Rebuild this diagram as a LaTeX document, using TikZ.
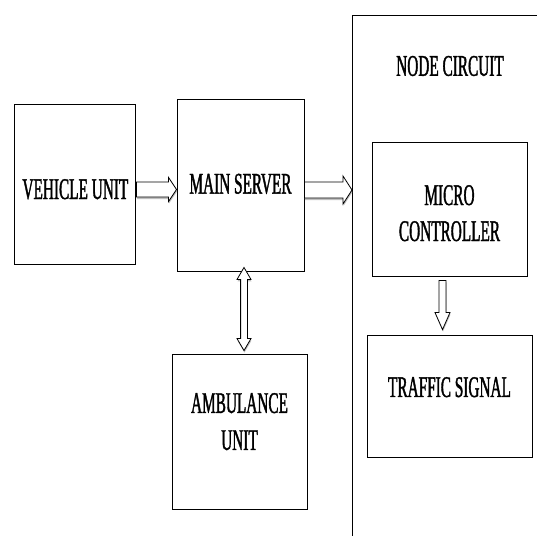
\documentclass[tikz,border=0pt]{standalone}
\usepackage{fontspec}
\setmainfont[FakeStretch=0.51, FakeBold=1.2]{Liberation Serif}
\usetikzlibrary{calc,shadows}

% hollow block arrow: from, to, shaft half width, head half width, head length
\newcommand{\blockarrow}[5]{%
  \coordinate (hb) at ($(#2)!#5!(#1)$);
  \draw[blockarr] ($(#1)!#3!90:(#2)$) -- ($(hb)!#3!90:(#2)$) -- ($(hb)!#4!90:(#2)$) -- (#2)
    -- ($(hb)!#4!-90:(#2)$) -- ($(hb)!#3!-90:(#2)$) -- ($(#1)!#3!-90:(#2)$) -- cycle;}
% hollow block arrow with two heads
\newcommand{\dblblockarrow}[5]{%
  \coordinate (ha) at ($(#1)!#5!(#2)$);
  \coordinate (hb) at ($(#2)!#5!(#1)$);
  \draw[blockarr] (#1) -- ($(ha)!#4!90:(#2)$) -- ($(ha)!#3!90:(#2)$) -- ($(hb)!#3!90:(#2)$)
    -- ($(hb)!#4!90:(#2)$) -- (#2) -- ($(hb)!#4!-90:(#2)$) -- ($(hb)!#3!-90:(#2)$)
    -- ($(ha)!#3!-90:(#2)$) -- ($(ha)!#4!-90:(#2)$) -- cycle;}

\tikzset{
  unitbox/.style={draw=black, line width=0.9pt, align=center, inner sep=0pt,
    font=\fontsize{30}{36}\selectfont},
  blockarr/.style={draw=black, fill=white, line width=0.8pt,
    drop shadow={opacity=0.5, shadow xshift=0.5pt, shadow yshift=-2pt}}
}

\begin{document}
\begin{tikzpicture}[x=1pt, y=-1pt]
    \useasboundingbox (0,0) rectangle (537,536);
    % blocks
    \node[unitbox, minimum width=121pt, minimum height=160pt, text height=30pt, text depth=0pt] (veh) at (75.4,184) {VEHICLE UNIT};
    \node[unitbox, minimum width=127pt, minimum height=172pt, text depth=2.7pt] (srv) at (240.5,185) {MAIN SERVER};
    \node[unitbox, minimum width=135pt, minimum height=155pt, font=\fontsize{30}{37}\selectfont, text depth=20pt] (amb) at (239.5,431.5) {AMBULANCE\\UNIT};
    % node circuit frame (open to the right and below)
    \coordinate (nc) at (352,15.5);
    \draw[line width=0.9pt] (537,15.5) -- (nc) -- (352,536);
    \node[font=\fontsize{30}{36}\selectfont] (nctitle) at (450,66) {NODE CIRCUIT};
    \node[unitbox, minimum width=155pt, minimum height=134pt, text height=64pt, text depth=0pt] (mcu) at (449.5,209) {MICRO\\CONTROLLER};
    \node[unitbox, minimum width=165pt, minimum height=122pt, text depth=17.9pt] (sig) at (449.5,396) {TRAFFIC SIGNAL};
    % vehicle unit -> main server
    \coordinate (a1) at ($(veh.east)+(0,5.5)$);
    \coordinate (b1) at (a1 -| srv.west);
    \blockarrow{a1}{b1}{7.5pt}{12pt}{8pt}
    % main server -> node circuit
    \coordinate (a2) at ($(srv.east)+(0,5)$);
    \coordinate (b2) at (a2 -| nc);
    \blockarrow{a2}{b2}{8pt}{14pt}{9pt}
    % main server <-> ambulance unit
    \coordinate (a3) at ($(srv.south)+(3.5,-4)$);
    \coordinate (b3) at ($(a3 |- amb.north)+(0,-3)$);
    \dblblockarrow{a3}{b3}{3.4pt}{7pt}{12pt}
    % micro controller -> traffic signal
    \coordinate (a4) at ($(mcu.south)+(-7,4)$);
    \coordinate (b4) at ($(a4 |- sig.north)+(0,-5)$);
    \blockarrow{a4}{b4}{3.5pt}{7.5pt}{17pt}
\end{tikzpicture}
\end{document}
